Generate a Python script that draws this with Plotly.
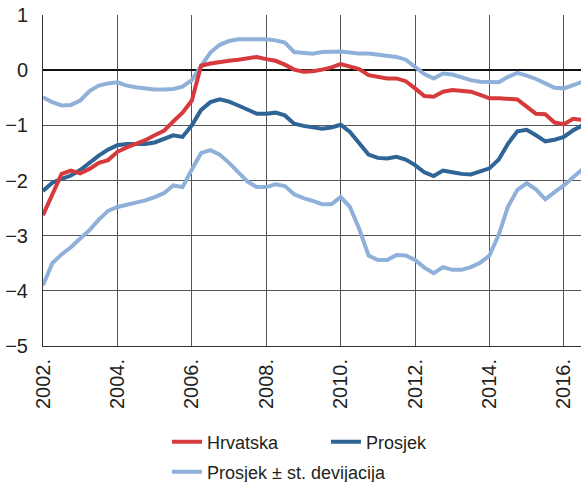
import plotly.graph_objects as go

# quarterly observations, 2002 Q1 .. 2016 Q3
start_year = 2002
hrvatska = [-2.63, -2.25, -1.88, -1.82, -1.87, -1.79, -1.68, -1.63, -1.48, -1.40,
            -1.33, -1.27, -1.18, -1.10, -0.93, -0.77, -0.55, 0.08, 0.12, 0.15,
            0.17, 0.19, 0.21, 0.24, 0.20, 0.17, 0.10, 0.01, -0.03, -0.02,
            0.01, 0.05, 0.11, 0.06, 0.02, -0.09, -0.12, -0.15, -0.15, -0.20,
            -0.33, -0.47, -0.48, -0.39, -0.36, -0.37, -0.39, -0.45, -0.51, -0.51,
            -0.52, -0.53, -0.66, -0.79, -0.80, -0.95, -0.98, -0.88, -0.90]
prosjek = [-2.19, -2.04, -1.97, -1.91, -1.81, -1.67, -1.55, -1.44, -1.36, -1.34,
           -1.34, -1.34, -1.31, -1.25, -1.18, -1.21, -1.00, -0.72, -0.58, -0.53,
           -0.57, -0.64, -0.72, -0.79, -0.79, -0.77, -0.82, -0.97, -1.01, -1.04,
           -1.06, -1.04, -0.99, -1.12, -1.32, -1.53, -1.59, -1.60, -1.57, -1.62,
           -1.72, -1.85, -1.92, -1.82, -1.85, -1.88, -1.89, -1.84, -1.78, -1.62,
           -1.33, -1.11, -1.08, -1.18, -1.29, -1.26, -1.21, -1.09, -1.00]
gornja = [-0.49, -0.58, -0.64, -0.63, -0.55, -0.38, -0.28, -0.24, -0.22, -0.28,
          -0.31, -0.33, -0.35, -0.35, -0.34, -0.30, -0.18, 0.08, 0.32, 0.46,
          0.53, 0.56, 0.56, 0.55, 0.56, 0.54, 0.50, 0.33, 0.31, 0.30,
          0.33, 0.34, 0.34, 0.32, 0.30, 0.30, 0.28, 0.27, 0.24, 0.19,
          0.06, -0.07, -0.15, -0.06, -0.08, -0.13, -0.18, -0.21, -0.22, -0.22,
          -0.12, -0.05, -0.10, -0.16, -0.24, -0.32, -0.33, -0.27, -0.21]
donja = [-3.90, -3.50, -3.34, -3.21, -3.05, -2.90, -2.71, -2.55, -2.48, -2.44,
         -2.40, -2.36, -2.30, -2.23, -2.09, -2.12, -1.80, -1.50, -1.45, -1.53,
         -1.68, -1.85, -2.02, -2.12, -2.12, -2.07, -2.10, -2.25, -2.32, -2.37,
         -2.43, -2.43, -2.30, -2.48, -2.88, -3.36, -3.44, -3.44, -3.35, -3.36,
         -3.44, -3.58, -3.68, -3.57, -3.62, -3.62, -3.57, -3.49, -3.36, -2.98,
         -2.47, -2.17, -2.05, -2.16, -2.34, -2.21, -2.09, -1.94, -1.80]
x_ticks = [2002, 2004, 2006, 2008, 2010, 2012, 2014, 2016]
x_tick_labels = ["2002.", "2004.", "2006.", "2008.", "2010.", "2012.", "2014.", "2016."]
y_ticks = [1, 0, -1, -2, -3, -4, -5]

x = [start_year + 0.25 * i for i in range(len(hrvatska))]

RED = "#d63a3d"
DARK = "#2f6496"
LIGHT = "#8fb0d9"
FONT = "Liberation Sans"

fig = go.Figure()
fig.add_trace(go.Scatter(x=x, y=gornja, mode="lines", line=dict(color=LIGHT, width=4),
                         name="Prosjek ± st. devijacija", legend="legend2", legendgroup="sd"))
fig.add_trace(go.Scatter(x=x, y=donja, mode="lines", line=dict(color=LIGHT, width=4),
                         name="Prosjek ± st. devijacija", legend="legend2", legendgroup="sd",
                         showlegend=False))
fig.add_trace(go.Scatter(x=x, y=prosjek, mode="lines", line=dict(color=DARK, width=4),
                         name="Prosjek", legend="legend"))
fig.add_trace(go.Scatter(x=x, y=hrvatska, mode="lines", line=dict(color=RED, width=4),
                         name="Hrvatska", legend="legend"))

fig.update_layout(
    width=581, height=482,
    margin=dict(l=43, r=0, t=15, b=136, autoexpand=False),
    paper_bgcolor="white", plot_bgcolor="white",
    font=dict(family=FONT, size=18, color="#231f20"),
    legend=dict(orientation="h", xref="container", x=0.2874, xanchor="left",
                yref="container", y=0.083, yanchor="middle",
                traceorder="reversed", entrywidth=114, font=dict(size=18),
                itemwidth=30, tracegroupgap=0),
    legend2=dict(orientation="h", xref="container", x=0.2874, xanchor="left",
                 yref="container", y=0.0207, yanchor="middle",
                 font=dict(size=18), itemwidth=30),
)
fig.update_xaxes(range=[2002, 2016.46], tickvals=x_ticks, ticktext=x_tick_labels,
                 tickangle=-90, showgrid=True, gridcolor="#555555", gridwidth=1,
                 showline=True, linecolor="#333333", linewidth=1, zeroline=False,
                 ticks="", ticklabelstandoff=4, tickfont=dict(size=20), automargin=False)
fig.update_yaxes(range=[-5, 1], tickvals=y_ticks, showgrid=True, gridcolor="#555555",
                 gridwidth=1, showline=True, linecolor="#333333", linewidth=1,
                 zeroline=True, zerolinecolor="#111111", zerolinewidth=2,
                 ticks="", ticklabelstandoff=10, tickfont=dict(size=20), automargin=False)

fig.write_html("out.html", config={"displayModeBar": False},
               post_script="document.body.style.margin='0';")
